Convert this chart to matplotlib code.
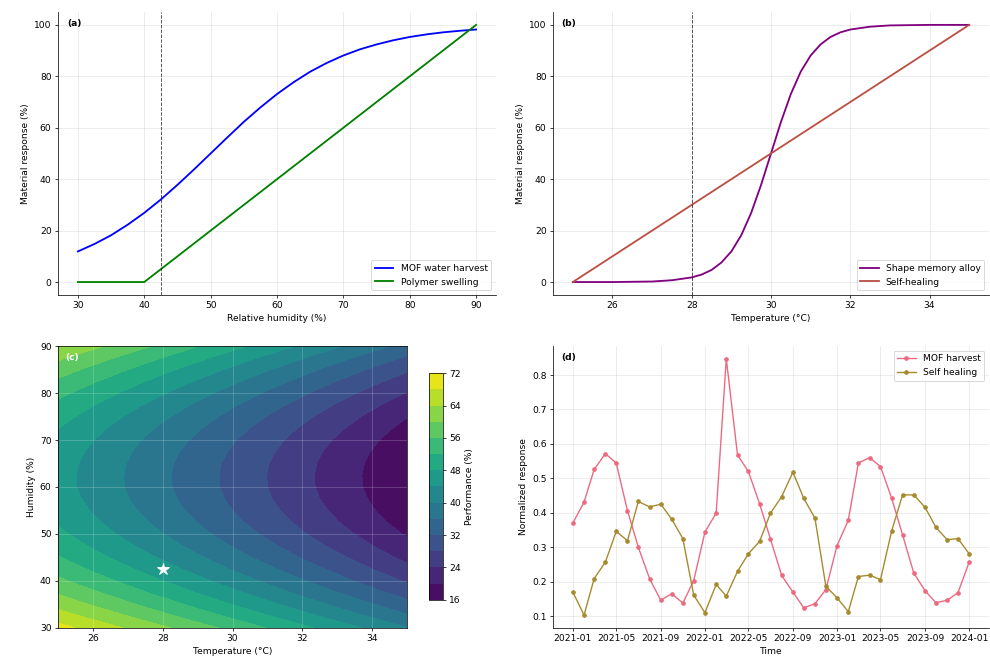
import numpy as np
import pandas as pd
import matplotlib
matplotlib.use("Agg")
import matplotlib.pyplot as plt
import matplotlib.dates as mdates

# (a) response to relative humidity
rh = [30, 32.5, 35, 37.5, 40, 42.5, 45, 47.5, 50, 52.5, 55, 57.5, 60,
      62.5, 65, 67.5, 70, 72.5, 75, 77.5, 80, 82.5, 85, 87.5, 90]
mof_water = [11.9, 14.8, 18.2, 22.3, 26.9, 32.1, 37.8, 43.8, 50.0, 56.2,
             62.3, 67.9, 73.1, 77.7, 81.8, 85.2, 88.1, 90.5, 92.4, 94.0,
             95.3, 96.3, 97.1, 97.7, 98.2]
rh_polymer = [30, 40, 90]
polymer_swelling = [0, 0, 100]
rh_threshold = 42.5

# (b) response to temperature
temp_sma = [25, 26, 27, 27.5, 28, 28.25, 28.5, 28.75, 29, 29.25, 29.5, 29.75,
            30, 30.25, 30.5, 30.75, 31, 31.25, 31.5, 31.75, 32, 32.5, 33, 34, 35]
shape_memory = [0.0, 0.0, 0.2, 0.7, 1.8, 2.9, 4.7, 7.6, 11.9, 18.2, 26.9, 37.8,
                50.0, 62.2, 73.1, 81.8, 88.1, 92.4, 95.3, 97.1, 98.2, 99.3,
                99.8, 100.0, 100.0]
temp_heal = [25, 35]
self_heal = [0, 100]
temp_threshold = 28

# (c) performance map: temperature trend along the ridge + humidity offset
map_temp = [25, 26, 27, 28, 29, 30, 31, 32, 33, 34, 35]
perf_ridge = [45.5, 42.57, 39.64, 36.71, 33.78, 30.85, 27.92, 24.99, 22.06,
              19.13, 16.2]
map_hum = [30, 32.5, 35, 37.5, 40, 42.5, 45, 47.5, 50, 52.5, 55, 57.5, 60,
           62.5, 65, 67.5, 70, 72.5, 75, 77.5, 80, 82.5, 85, 87.5, 90]
hum_offset = [23.96, 20.36, 17.06, 14.05, 11.33, 8.90, 6.76, 4.92, 3.37, 2.11,
              1.15, 0.47, 0.09, 0.01, 0.21, 0.71, 1.50, 2.58, 3.95, 5.62, 7.58,
              9.83, 12.38, 15.22, 18.35]
optimum = (28, 42.5)

# (d) monthly normalized response
months = pd.date_range("2021-01-01", "2024-01-01", freq="MS")
mof_harvest = [0.370, 0.431, 0.526, 0.572, 0.544, 0.406, 0.300, 0.209, 0.146,
               0.165, 0.138, 0.203, 0.344, 0.399, 0.847, 0.568, 0.520, 0.426,
               0.324, 0.218, 0.170, 0.124, 0.136, 0.177, 0.305, 0.378, 0.545,
               0.560, 0.534, 0.442, 0.336, 0.225, 0.174, 0.139, 0.146, 0.168,
               0.257]
self_healing = [0.170, 0.103, 0.209, 0.257, 0.346, 0.319, 0.433, 0.417, 0.425,
                0.382, 0.325, 0.161, 0.110, 0.192, 0.158, 0.230, 0.281, 0.317,
                0.399, 0.447, 0.518, 0.442, 0.384, 0.187, 0.153, 0.113, 0.215,
                0.219, 0.206, 0.348, 0.452, 0.452, 0.416, 0.358, 0.322, 0.325,
                0.281]

W, H = 990, 658


def box(x0, y0, x1, y1):
    # pixel box -> figure fraction
    return [x0 / W, 1 - y1 / H, (x1 - x0) / W, (y1 - y0) / H]


fig = plt.figure(figsize=(15, 10), dpi=66)
ax1 = fig.add_axes(box(58, 12, 496, 294))
ax2 = fig.add_axes(box(553, 12, 989, 294))
ax3 = fig.add_axes(box(58, 345, 407, 626))
cax = fig.add_axes(box(429, 372, 443, 598))
ax4 = fig.add_axes(box(553, 345, 989, 626))

# (a)
ax1.plot(rh, mof_water, color="blue", lw=2, label="MOF water harvest")
ax1.plot(rh_polymer, polymer_swelling, color="green", lw=2, label="Polymer swelling")
ax1.axvline(rh_threshold, color="black", ls="--", lw=1, alpha=0.7)
ax1.set_xlabel("Relative humidity (%)")
ax1.set_ylabel("Material response (%)")
ax1.set_ylim(-5, 105)
ax1.legend(loc="lower right")
ax1.text(0.02, 0.975, "(a)", transform=ax1.transAxes, fontweight="bold", va="top")

# (b)
ax2.plot(temp_sma, shape_memory, color="purple", lw=2, label="Shape memory alloy")
ax2.plot(temp_heal, self_heal, color="#bb5044", lw=2, label="Self-healing")
ax2.axvline(temp_threshold, color="black", ls="--", lw=1, alpha=0.7)
ax2.set_xlabel("Temperature (°C)")
ax2.set_ylabel("Material response (%)")
ax2.set_xticks([26, 28, 30, 32, 34])
ax2.set_ylim(-5, 105)
ax2.legend(loc="lower right")
ax2.text(0.02, 0.975, "(b)", transform=ax2.transAxes, fontweight="bold", va="top")

for ax in (ax1, ax2, ax4):
    ax.grid(True, alpha=0.3)
    ax.spines["top"].set_visible(False)
    ax.spines["right"].set_visible(False)

# (c)
perf = np.add.outer(hum_offset, perf_ridge)
cf = ax3.contourf(map_temp, map_hum, perf, levels=np.arange(16, 76, 4), cmap="viridis")
ax3.plot(*optimum, marker="*", color="white", markersize=13, markeredgecolor="white")
ax3.set_xlabel("Temperature (°C)")
ax3.set_ylabel("Humidity (%)")
ax3.set_xticks([26, 28, 30, 32, 34])
ax3.grid(True, color="white", alpha=0.25)
ax3.text(0.02, 0.975, "(c)", transform=ax3.transAxes, fontweight="bold",
         va="top", color="white")
cb = fig.colorbar(cf, cax=cax)
cb.set_label("Performance (%)")

# (d)
ax4.plot(months, mof_harvest, color="#ec6a80", marker="o", markersize=4, lw=1.5,
         label="MOF harvest")
ax4.plot(months, self_healing, color="#a68a2e", marker="o", markersize=4, lw=1.5,
         label="Self healing")
ax4.xaxis.set_major_locator(mdates.MonthLocator(bymonth=[1, 5, 9]))
ax4.xaxis.set_major_formatter(mdates.DateFormatter("%Y-%m"))
ax4.set_xlabel("Time")
ax4.set_ylabel("Normalized response")
ax4.legend(loc="upper right")
ax4.text(0.02, 0.975, "(d)", transform=ax4.transAxes, fontweight="bold", va="top")

fig.savefig("out.png", dpi=66, facecolor="white")
